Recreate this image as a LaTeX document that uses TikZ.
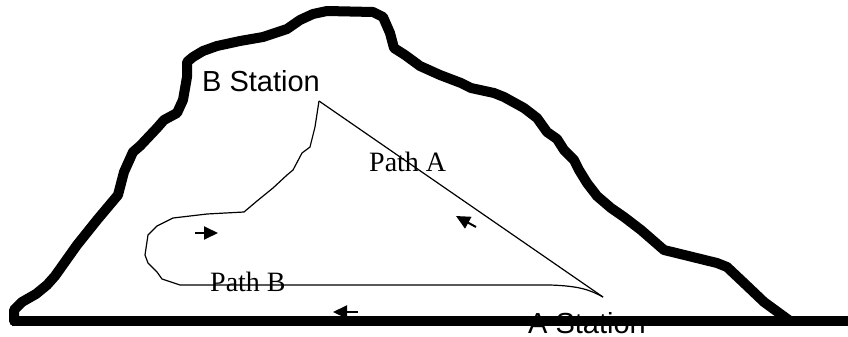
\documentclass[tikz,border=0pt]{standalone}
\usepackage{fontspec}
\setmainfont{Liberation Serif}
\newfontfamily\labelsans{Liberation Sans}
\usetikzlibrary{arrows.meta}
\begin{document}
\begin{tikzpicture}[x=1pt,y=-1pt,
  outline/.style={line width=10pt,line join=round,line cap=round},
  route/.style={line width=1.2pt,line join=round},
  dirarrow/.style={line width=2pt,-{Triangle[length=14pt,width=13pt]}},
  stationlabel/.style={inner sep=0pt,anchor=base west,font=\labelsans\fontsize{29}{34}\selectfont},
  routelabel/.style={inner sep=0pt,anchor=base west,font=\fontsize{28}{33}\selectfont}]
\useasboundingbox (0,0) rectangle (848,337);

% station points and arrow ends
\coordinate (b) at (319,101);
\coordinate (a) at (603,297);
\coordinate (gl) at (12,321);
\coordinate (gr) at (848,321);
\coordinate (r1) at (195,233); \coordinate (r2) at (218,233);
\coordinate (u1) at (476,227); \coordinate (u2) at (456,216);
\coordinate (l1) at (358,312); \coordinate (l2) at (333,312);

% labels
\node[stationlabel] (bst) at (202,91) {B Station};
\node[stationlabel] (ast) at (528,333) {A Station};
\node[routelabel] (pa) at (369,171) {Path A};
\node[routelabel] (pb) at (210,291) {Path B};

% ground
\draw[line width=10pt] (gl) -- (gr);

% mountain outline
\draw[outline] (14,321) -- (14,310) -- (22,302) -- (36,294) -- (47,285) -- (55,276)
  -- (77,245) -- (97,220) -- (118,195) -- (124,172) -- (133,152) -- (140,146)
  -- (157,128) -- (164,120) -- (177,113) -- (183,100) -- (187,77) -- (187,62)
  -- (193,57) -- (203,51) -- (217,46) -- (240,41) -- (263,37) -- (287,29)
  -- (300,20) -- (313,14) -- (327,11) -- (373,12) -- (383,17) -- (390,33)
  -- (394,48) -- (405,55) -- (420,66) -- (440,75) -- (461,83) -- (471,88)
  -- (494,93) -- (504,97) -- (524,108) -- (537,118) -- (547,132) -- (557,139)
  -- (564,150) -- (574,160) -- (579,170) -- (587,183) -- (597,196) -- (611,208)
  -- (624,217) -- (641,230) -- (664,250) -- (717,263) -- (727,267) -- (744,283)
  -- (764,302) -- (790,321);

% path A: straight route
\draw[route] (b) -- (a);

% path B: winding route
\draw[route] (b) -- (315,127) -- (310,147) -- (302,153) -- (293,170) -- (287,175)
  -- (273,188) -- (257,201) -- (244,212) -- (207,214) -- (173,218) -- (157,226)
  -- (148,235) -- (145,255) -- (148,263) -- (157,272) -- (162,279) -- (180,285)
  -- (550,285) .. controls (580,286) and (590,290) .. (a);

% direction arrows
\draw[dirarrow] (r1) -- (r2);
\draw[dirarrow] (u1) -- (u2);
\draw[dirarrow] (l1) -- (l2);
\end{tikzpicture}
\end{document}
